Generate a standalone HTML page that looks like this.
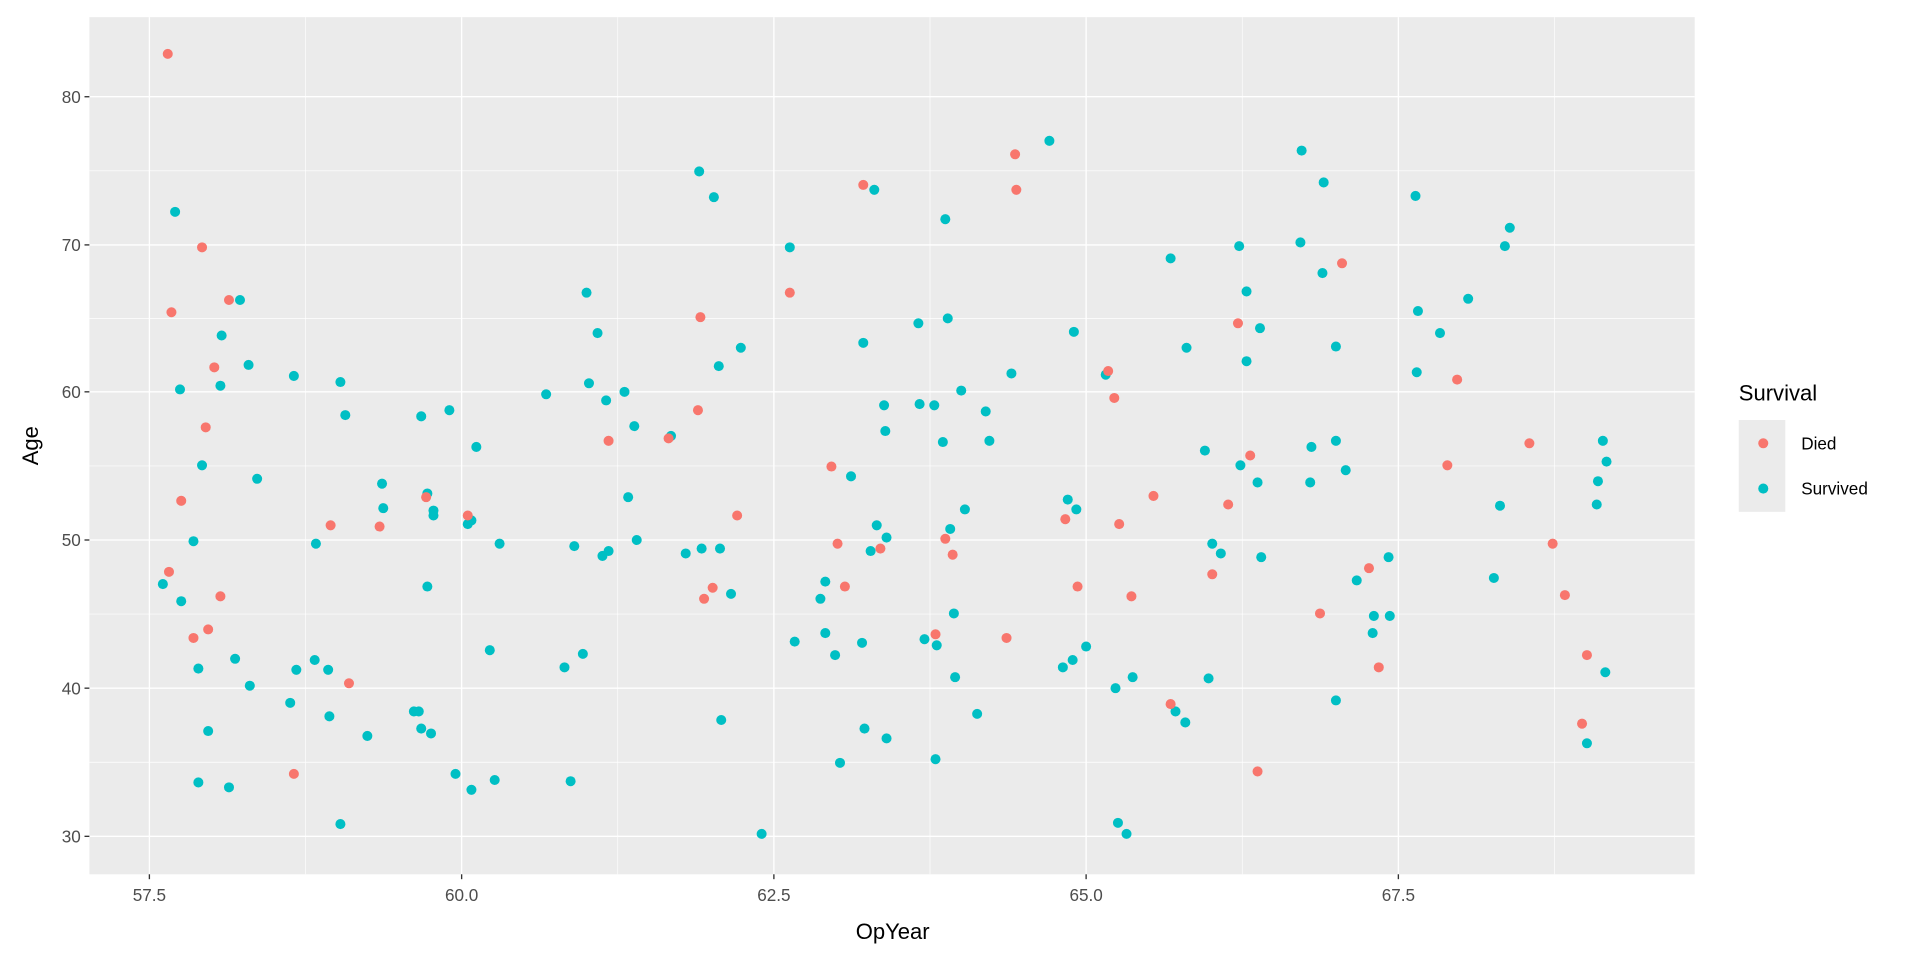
<!DOCTYPE html>
<html><head><style>html,body{margin:0;padding:0;background:#fff}svg{display:block}circle{r:4.1px}</style></head>
<body>
<svg width="1920" height="960" viewBox="0 0 1568 784" xmlns="http://www.w3.org/2000/svg" font-family="Liberation Sans, sans-serif">
<rect x="0" y="0" width="1568" height="784" fill="#fff"/>
<rect x="73" y="14" width="1311" height="700" fill="#EBEBEB"/>
<g stroke="#fff" stroke-width="0.55">
<line x1="249.5" y1="14" x2="249.5" y2="714"/><line x1="504.5" y1="14" x2="504.5" y2="714"/><line x1="759.5" y1="14" x2="759.5" y2="714"/><line x1="1014.5" y1="14" x2="1014.5" y2="714"/><line x1="1269.5" y1="14" x2="1269.5" y2="714"/>
<line x1="73" y1="139.5" x2="1384" y2="139.5"/><line x1="73" y1="260" x2="1384" y2="260"/><line x1="73" y1="380.5" x2="1384" y2="380.5"/><line x1="73" y1="501.5" x2="1384" y2="501.5"/><line x1="73" y1="622.5" x2="1384" y2="622.5"/>
</g>
<g stroke="#fff" stroke-width="1.1">
<line x1="122" y1="14" x2="122" y2="714"/><line x1="377" y1="14" x2="377" y2="714"/><line x1="632" y1="14" x2="632" y2="714"/><line x1="887" y1="14" x2="887" y2="714"/><line x1="1142" y1="14" x2="1142" y2="714"/>
<line x1="73" y1="79" x2="1384" y2="79"/><line x1="73" y1="200" x2="1384" y2="200"/><line x1="73" y1="320" x2="1384" y2="320"/><line x1="73" y1="441" x2="1384" y2="441"/><line x1="73" y1="562" x2="1384" y2="562"/><line x1="73" y1="683" x2="1384" y2="683"/>
</g>
<g fill="#00BFC4">
<circle cx="133" cy="477" r="4.1"/><circle cx="143" cy="173" r="4.1"/><circle cx="147" cy="318" r="4.1"/><circle cx="148" cy="491" r="4.1"/><circle cx="165" cy="380" r="4.1"/><circle cx="158" cy="442" r="4.1"/><circle cx="162" cy="546" r="4.1"/><circle cx="162" cy="639" r="4.1"/><circle cx="170" cy="597" r="4.1"/><circle cx="181" cy="274" r="4.1"/><circle cx="180" cy="315" r="4.1"/><circle cx="187" cy="643" r="4.1"/><circle cx="192" cy="538" r="4.1"/><circle cx="196" cy="245" r="4.1"/><circle cx="203" cy="298" r="4.1"/><circle cx="204" cy="560" r="4.1"/><circle cx="210" cy="391" r="4.1"/><circle cx="237" cy="574" r="4.1"/><circle cx="240" cy="307" r="4.1"/><circle cx="242" cy="547" r="4.1"/><circle cx="258" cy="444" r="4.1"/><circle cx="257" cy="539" r="4.1"/><circle cx="268" cy="547" r="4.1"/><circle cx="269" cy="585" r="4.1"/><circle cx="278" cy="312" r="4.1"/><circle cx="282" cy="339" r="4.1"/><circle cx="278" cy="673" r="4.1"/><circle cx="300" cy="601" r="4.1"/><circle cx="312" cy="395" r="4.1"/><circle cx="313" cy="415" r="4.1"/><circle cx="344" cy="340" r="4.1"/><circle cx="338" cy="581" r="4.1"/><circle cx="342" cy="581" r="4.1"/><circle cx="344" cy="595" r="4.1"/><circle cx="349" cy="403" r="4.1"/><circle cx="349" cy="479" r="4.1"/><circle cx="354" cy="417" r="4.1"/><circle cx="354" cy="421" r="4.1"/><circle cx="352" cy="599" r="4.1"/><circle cx="367" cy="335" r="4.1"/><circle cx="372" cy="632" r="4.1"/><circle cx="382" cy="428" r="4.1"/><circle cx="385" cy="645" r="4.1"/><circle cx="389" cy="365" r="4.1"/><circle cx="385" cy="425" r="4.1"/><circle cx="400" cy="531" r="4.1"/><circle cx="404" cy="637" r="4.1"/><circle cx="408" cy="444" r="4.1"/><circle cx="446" cy="322" r="4.1"/><circle cx="461" cy="545" r="4.1"/><circle cx="469" cy="446" r="4.1"/><circle cx="466" cy="638" r="4.1"/><circle cx="476" cy="534" r="4.1"/><circle cx="479" cy="239" r="4.1"/><circle cx="481" cy="313" r="4.1"/><circle cx="488" cy="272" r="4.1"/><circle cx="492" cy="454" r="4.1"/><circle cx="495" cy="327" r="4.1"/><circle cx="497" cy="450" r="4.1"/><circle cx="510" cy="320" r="4.1"/><circle cx="513" cy="406" r="4.1"/><circle cx="518" cy="348" r="4.1"/><circle cx="520" cy="441" r="4.1"/><circle cx="548" cy="356" r="4.1"/><circle cx="560" cy="452" r="4.1"/><circle cx="571" cy="140" r="4.1"/><circle cx="573" cy="448" r="4.1"/><circle cx="583" cy="161" r="4.1"/><circle cx="587" cy="299" r="4.1"/><circle cx="588" cy="448" r="4.1"/><circle cx="589" cy="588" r="4.1"/><circle cx="597" cy="485" r="4.1"/><circle cx="605" cy="284" r="4.1"/><circle cx="622" cy="681" r="4.1"/><circle cx="645" cy="202" r="4.1"/><circle cx="649" cy="524" r="4.1"/><circle cx="670" cy="489" r="4.1"/><circle cx="674" cy="475" r="4.1"/><circle cx="674" cy="517" r="4.1"/><circle cx="682" cy="535" r="4.1"/><circle cx="686" cy="623" r="4.1"/><circle cx="695" cy="389" r="4.1"/><circle cx="705" cy="280" r="4.1"/><circle cx="704" cy="525" r="4.1"/><circle cx="711" cy="450" r="4.1"/><circle cx="706" cy="595" r="4.1"/><circle cx="714" cy="155" r="4.1"/><circle cx="716" cy="429" r="4.1"/><circle cx="722" cy="331" r="4.1"/><circle cx="723" cy="352" r="4.1"/><circle cx="724" cy="439" r="4.1"/><circle cx="724" cy="603" r="4.1"/><circle cx="750" cy="264" r="4.1"/><circle cx="751" cy="330" r="4.1"/><circle cx="755" cy="522" r="4.1"/><circle cx="763" cy="331" r="4.1"/><circle cx="764" cy="620" r="4.1"/><circle cx="765" cy="527" r="4.1"/><circle cx="770" cy="361" r="4.1"/><circle cx="772" cy="179" r="4.1"/><circle cx="774" cy="260" r="4.1"/><circle cx="776" cy="432" r="4.1"/><circle cx="779" cy="501" r="4.1"/><circle cx="780" cy="553" r="4.1"/><circle cx="788" cy="416" r="4.1"/><circle cx="785" cy="319" r="4.1"/><circle cx="798" cy="583" r="4.1"/><circle cx="805" cy="336" r="4.1"/><circle cx="808" cy="360" r="4.1"/><circle cx="826" cy="305" r="4.1"/><circle cx="857" cy="115" r="4.1"/><circle cx="868" cy="545" r="4.1"/><circle cx="877" cy="271" r="4.1"/><circle cx="876" cy="539" r="4.1"/><circle cx="879" cy="416" r="4.1"/><circle cx="887" cy="528" r="4.1"/><circle cx="872" cy="408" r="4.1"/><circle cx="903" cy="306" r="4.1"/><circle cx="911" cy="562" r="4.1"/><circle cx="925" cy="553" r="4.1"/><circle cx="913" cy="672" r="4.1"/><circle cx="920" cy="681" r="4.1"/><circle cx="956" cy="211" r="4.1"/><circle cx="984" cy="368" r="4.1"/><circle cx="990" cy="444" r="4.1"/><circle cx="987" cy="554" r="4.1"/><circle cx="997" cy="452" r="4.1"/><circle cx="969" cy="284" r="4.1"/><circle cx="960" cy="581" r="4.1"/><circle cx="968" cy="590" r="4.1"/><circle cx="1012" cy="201" r="4.1"/><circle cx="1018" cy="238" r="4.1"/><circle cx="1018" cy="295" r="4.1"/><circle cx="1013" cy="380" r="4.1"/><circle cx="1029" cy="268" r="4.1"/><circle cx="1027" cy="394" r="4.1"/><circle cx="1030" cy="455" r="4.1"/><circle cx="1062" cy="198" r="4.1"/><circle cx="1080" cy="223" r="4.1"/><circle cx="1081" cy="149" r="4.1"/><circle cx="1063" cy="123" r="4.1"/><circle cx="1091" cy="283" r="4.1"/><circle cx="1091" cy="360" r="4.1"/><circle cx="1071" cy="365" r="4.1"/><circle cx="1070" cy="394" r="4.1"/><circle cx="1099" cy="384" r="4.1"/><circle cx="1091" cy="572" r="4.1"/><circle cx="1108" cy="474" r="4.1"/><circle cx="1122" cy="503" r="4.1"/><circle cx="1121" cy="517" r="4.1"/><circle cx="1135" cy="503" r="4.1"/><circle cx="1134" cy="455" r="4.1"/><circle cx="1156" cy="160" r="4.1"/><circle cx="1158" cy="254" r="4.1"/><circle cx="1157" cy="304" r="4.1"/><circle cx="1176" cy="272" r="4.1"/><circle cx="1199" cy="244" r="4.1"/><circle cx="1233" cy="186" r="4.1"/><circle cx="1229" cy="201" r="4.1"/><circle cx="1225" cy="413" r="4.1"/><circle cx="1220" cy="472" r="4.1"/><circle cx="1309" cy="360" r="4.1"/><circle cx="1312" cy="377" r="4.1"/><circle cx="1305" cy="393" r="4.1"/><circle cx="1304" cy="412" r="4.1"/><circle cx="1311" cy="549" r="4.1"/><circle cx="1296" cy="607" r="4.1"/>
</g>
<g fill="#F8766D">
<circle cx="137" cy="44" r="4.1"/><circle cx="165" cy="202" r="4.1"/><circle cx="140" cy="255" r="4.1"/><circle cx="148" cy="409" r="4.1"/><circle cx="138" cy="467" r="4.1"/><circle cx="168" cy="349" r="4.1"/><circle cx="187" cy="245" r="4.1"/><circle cx="175" cy="300" r="4.1"/><circle cx="180" cy="487" r="4.1"/><circle cx="170" cy="514" r="4.1"/><circle cx="158" cy="521" r="4.1"/><circle cx="240" cy="632" r="4.1"/><circle cx="270" cy="429" r="4.1"/><circle cx="285" cy="558" r="4.1"/><circle cx="310" cy="430" r="4.1"/><circle cx="348" cy="406" r="4.1"/><circle cx="382" cy="421" r="4.1"/><circle cx="497" cy="360" r="4.1"/><circle cx="546" cy="358" r="4.1"/><circle cx="570" cy="335" r="4.1"/><circle cx="572" cy="259" r="4.1"/><circle cx="575" cy="489" r="4.1"/><circle cx="582" cy="480" r="4.1"/><circle cx="602" cy="421" r="4.1"/><circle cx="645" cy="239" r="4.1"/><circle cx="684" cy="444" r="4.1"/><circle cx="679" cy="381" r="4.1"/><circle cx="690" cy="479" r="4.1"/><circle cx="705" cy="151" r="4.1"/><circle cx="719" cy="448" r="4.1"/><circle cx="764" cy="518" r="4.1"/><circle cx="772" cy="440" r="4.1"/><circle cx="778" cy="453" r="4.1"/><circle cx="822" cy="521" r="4.1"/><circle cx="829" cy="126" r="4.1"/><circle cx="830" cy="155" r="4.1"/><circle cx="870" cy="424" r="4.1"/><circle cx="880" cy="479" r="4.1"/><circle cx="905" cy="303" r="4.1"/><circle cx="910" cy="325" r="4.1"/><circle cx="914" cy="428" r="4.1"/><circle cx="942" cy="405" r="4.1"/><circle cx="924" cy="487" r="4.1"/><circle cx="956" cy="575" r="4.1"/><circle cx="990" cy="469" r="4.1"/><circle cx="1003" cy="412" r="4.1"/><circle cx="1011" cy="264" r="4.1"/><circle cx="1021" cy="372" r="4.1"/><circle cx="1027" cy="630" r="4.1"/><circle cx="1078" cy="501" r="4.1"/><circle cx="1096" cy="215" r="4.1"/><circle cx="1118" cy="464" r="4.1"/><circle cx="1126" cy="545" r="4.1"/><circle cx="1190" cy="310" r="4.1"/><circle cx="1182" cy="380" r="4.1"/><circle cx="1249" cy="362" r="4.1"/><circle cx="1268" cy="444" r="4.1"/><circle cx="1278" cy="486" r="4.1"/><circle cx="1296" cy="535" r="4.1"/><circle cx="1292" cy="591" r="4.1"/>
</g>
<g stroke="#333" stroke-width="1.1">
<line x1="69" y1="79" x2="73" y2="79"/><line x1="69" y1="200" x2="73" y2="200"/><line x1="69" y1="320" x2="73" y2="320"/><line x1="69" y1="441" x2="73" y2="441"/><line x1="69" y1="562" x2="73" y2="562"/><line x1="69" y1="683" x2="73" y2="683"/>
<line x1="122" y1="714" x2="122" y2="718"/><line x1="377" y1="714" x2="377" y2="718"/><line x1="632" y1="714" x2="632" y2="718"/><line x1="887" y1="714" x2="887" y2="718"/><line x1="1142" y1="714" x2="1142" y2="718"/>
</g>
<g fill="#4D4D4D" font-size="14" text-anchor="end">
<text x="66" y="84">80</text><text x="66" y="205">70</text><text x="66" y="325">60</text><text x="66" y="446">50</text><text x="66" y="567">40</text><text x="66" y="688">30</text>
</g>
<g fill="#4D4D4D" font-size="14" text-anchor="middle">
<text x="122" y="736">57.5</text><text x="377" y="736">60.0</text><text x="632" y="736">62.5</text><text x="887" y="736">65.0</text><text x="1142" y="736">67.5</text>
</g>
<text x="729" y="767" font-size="18" text-anchor="middle" fill="#000">OpYear</text>
<text transform="translate(31,364) rotate(-90)" font-size="18" text-anchor="middle" fill="#000">Age</text>
<text x="1420" y="327" font-size="18" fill="#000">Survival</text>
<rect x="1420" y="343" width="38" height="75" fill="#EBEBEB"/>
<circle cx="1440" cy="362" r="4.1" fill="#F8766D"/>
<circle cx="1440" cy="399" r="4.1" fill="#00BFC4"/>
<text x="1471" y="367" font-size="14" fill="#000">Died</text>
<text x="1471" y="404" font-size="14" fill="#000">Survived</text>
</svg>
</body></html>
